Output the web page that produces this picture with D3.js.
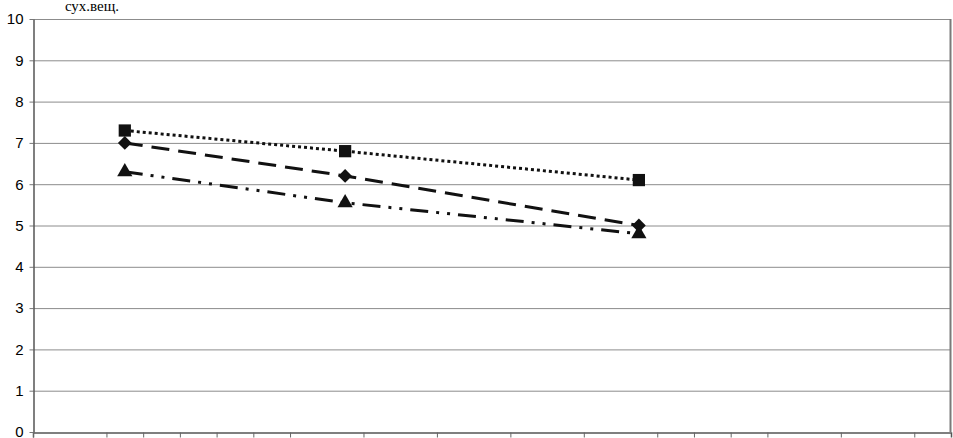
<!DOCTYPE html>
<html>
<head>
<meta charset="utf-8">
<script src="https://cdn.jsdelivr.net/npm/d3@7"></script>
<style>
  body { margin: 0; background: #fff; }
  svg { display: block; }
</style>
</head>
<body>
<div id="chart"></div>
<script>
// data
var xPos = [2.5, 8.5, 16.5];
var squares = [7.3, 6.8, 6.1];
var diamonds = [7.0, 6.2, 5.0];
var triangles = [6.3, 5.55, 4.8];
var xTicks = [0, 2, 3, 4, 5, 6, 7, 9, 11, 13, 15, 17, 18, 19, 20, 22, 24];
var yTicks = [0, 1, 2, 3, 4, 5, 6, 7, 8, 9, 10];
var yTitle = "сух.вещ.";

var svg = d3.select("#chart")
  .append("svg")
  .attr("width", 953)
  .attr("height", 438);

var width = +svg.attr("width"),
    height = +svg.attr("height"),
    margin = {top: 19, right: 2, bottom: 6, left: 33};

var x = d3.scaleLinear()
    .domain([0, 25])
    .range([margin.left, width - margin.right]);

var y = d3.scaleLinear()
    .domain([0, 10])
    .range([height - margin.bottom, margin.top]);

// gridlines
svg.append("g")
    .attr("class", "grid")
  .selectAll("line")
  .data(yTicks.slice(1))
  .enter().append("line")
    .attr("x1", x(0))
    .attr("x2", x(25))
    .attr("y1", function(d) { return y(d) + 0.5; })
    .attr("y2", function(d) { return y(d) + 0.5; })
    .attr("stroke", "#8c8c8c")
    .attr("stroke-width", 1);

// right border
svg.append("line")
    .attr("x1", x(25) - 0.5).attr("x2", x(25) - 0.5)
    .attr("y1", y(10)).attr("y2", y(0))
    .attr("stroke", "#7a7a7a")
    .attr("stroke-width", 2);

// x axis
svg.append("g")
    .attr("class", "axis axis--x")
    .attr("transform", "translate(0," + (y(0) + 0.5) + ")")
    .call(d3.axisBottom(x).tickValues(xTicks).tickSize(5).tickFormat(""))
    .call(function(g) {
      g.select(".domain").attr("stroke", "#555").attr("stroke-width", 1.5);
      g.selectAll(".tick line").attr("stroke", "#666");
    });

// y axis
svg.append("g")
    .attr("class", "axis axis--y")
    .attr("transform", "translate(" + (margin.left + 0.5) + ",0)")
    .call(d3.axisLeft(y).tickValues(yTicks).tickSize(4).tickSizeOuter(0).tickPadding(6))
    .call(function(g) {
      g.select(".domain").attr("stroke", "#555").attr("stroke-width", 1.5);
      g.selectAll(".tick line").attr("stroke", "#777");
      g.selectAll(".tick text")
        .attr("font-family", "Liberation Sans, Arial, sans-serif")
        .attr("font-size", 15)
        .attr("fill", "#000");
    });

svg.append("text")
    .attr("x", 92)
    .attr("y", 11)
    .attr("text-anchor", "middle")
    .attr("font-family", "Liberation Serif, Times New Roman, serif")
    .attr("font-size", 15)
    .attr("fill", "#000")
    .text(yTitle);

var line = d3.line()
    .x(function(d, i) { return x(xPos[i]); })
    .y(function(d) { return y(d); });

var series = [
  {values: squares, dash: "3,3", shape: d3.symbolSquare, size: 150, rot: 0},
  {values: diamonds, dash: "18,9", shape: d3.symbolSquare, size: 95, rot: 45},
  {values: triangles, dash: "18,8,3,8,3,8", shape: d3.symbolTriangle, size: 100, rot: 0}
];

series.forEach(function(s) {
  svg.append("path")
      .datum(s.values)
      .attr("fill", "none")
      .attr("stroke", "#111")
      .attr("stroke-width", 3)
      .attr("stroke-dasharray", s.dash)
      .attr("d", line);

  svg.append("g")
    .selectAll("path")
    .data(s.values)
    .enter().append("path")
      .attr("transform", function(d, i) {
        return "translate(" + x(xPos[i]) + "," + y(d) + ") rotate(" + s.rot + ")";
      })
      .attr("d", d3.symbol().type(s.shape).size(s.size))
      .attr("fill", "#111");
});
</script>
</body>
</html>
